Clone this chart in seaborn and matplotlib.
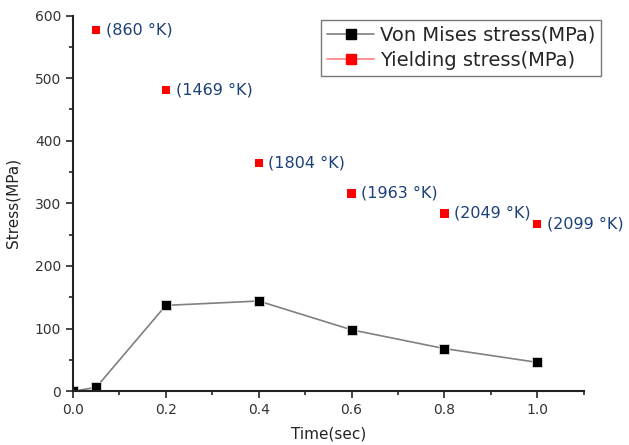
import matplotlib
matplotlib.use("Agg")
import matplotlib.pyplot as plt
import seaborn as sns
import pandas as pd
from matplotlib.ticker import MultipleLocator
from matplotlib.lines import Line2D

time_vm = [0.0, 0.05, 0.2, 0.4, 0.6, 0.8, 1.0]
von_mises = [0, 6, 137, 144, 98, 68, 46]
time_ys = [0.05, 0.2, 0.4, 0.6, 0.8, 1.0]
yielding = [577, 481, 364, 316, 284, 267]
temp_labels = ["(860 °K)", "(1469 °K)", "(1804 °K)", "(1963 °K)", "(2049 °K)", "(2099 °K)"]

sns.set_style("ticks")
plt.rcParams['font.family'] = ['DejaVu Sans']

fig = plt.figure(figsize=(6.29, 4.45), dpi=100)
ax = fig.add_axes([0.116, 0.121, 0.812, 0.844])

df_vm = pd.DataFrame({"t": time_vm, "s": von_mises})
df_ys = pd.DataFrame({"t": time_ys, "s": yielding})

sns.lineplot(data=df_vm, x="t", y="s", ax=ax, color="#808080", lw=1.2,
             marker="s", markersize=7, markerfacecolor="black", markeredgecolor="#dddddd",
             markeredgewidth=0.6, legend=False)
sns.scatterplot(data=df_ys, x="t", y="s", ax=ax, color="red", marker="s", s=36,
                edgecolor="none", legend=False)

for t, s, lab in zip(time_ys, yielding, temp_labels):
    ax.annotate(lab, (t, s), xytext=(7, 0), textcoords="offset points",
                va="center", ha="left", fontsize=11.5, color="#1c4078")

h1 = Line2D([], [], color="#808080", lw=1.2, marker="s", markersize=7,
            markerfacecolor="black", markeredgecolor="black")
h2 = Line2D([], [], color="#ff8080", lw=1.2, marker="s", markersize=7,
            markerfacecolor="red", markeredgecolor="red")
leg = fig.legend([h1, h2], ["Von Mises stress(MPa)", "Yielding stress(MPa)"],
                 loc="upper right", bbox_to_anchor=(601 / 629, 1 - 20 / 445), fontsize=14,
                 frameon=True, fancybox=False, edgecolor="#555555",
                 handlelength=2.4, borderpad=0.3, labelspacing=0.3, handletextpad=0.3,
                 borderaxespad=0.0)
leg.get_frame().set_linewidth(1.0)

ax.set_xlim(0, 1.1)
ax.set_ylim(0, 600)
ax.xaxis.set_major_locator(MultipleLocator(0.2))
ax.xaxis.set_minor_locator(MultipleLocator(0.1))
ax.yaxis.set_major_locator(MultipleLocator(100))
ax.yaxis.set_minor_locator(MultipleLocator(50))
ax.tick_params(which="major", length=5, width=1.2, labelsize=10, direction="out",
               labelcolor="#333333")
ax.tick_params(which="minor", length=3, width=1.2, direction="out")
ax.set_xticklabels([f"{v:.1f}" for v in ax.get_xticks()])
ax.set_xlabel("Time(sec)", fontsize=11, labelpad=7, color="#222222")
ax.set_ylabel("Stress(MPa)", fontsize=11, labelpad=10, color="#222222")
for side in ["top", "right"]:
    ax.spines[side].set_visible(False)
for side in ["left", "bottom"]:
    ax.spines[side].set_linewidth(1.5)
    ax.spines[side].set_color("#222222")

fig.savefig("out.png", dpi=100)
